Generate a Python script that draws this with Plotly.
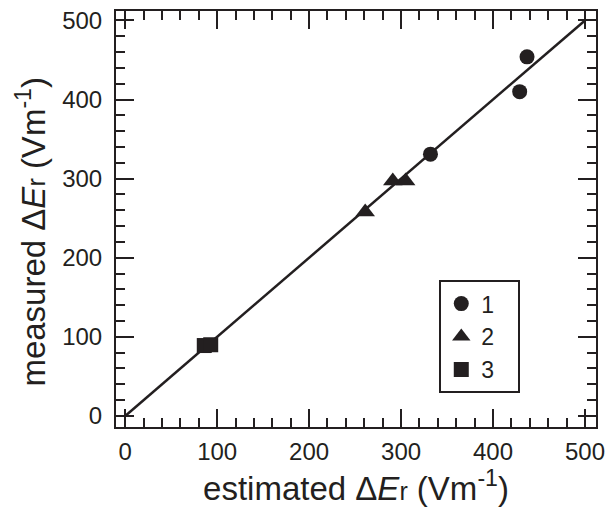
import plotly.graph_objects as go

# data
s1_x = [332, 429, 437]
s1_y = [331, 410, 454]
s2_x = [261, 291, 305]
s2_y = [258, 297, 297]
s3_x = [86, 93]
s3_y = [89, 90]
fit_x = [0, 500]
fit_y = [0, 500]
series_names = ["1", "2", "3"]

ink = "#231f20"
font = "Liberation Sans, Arial, sans-serif"
pad = "\u00a0\u00a0\u00a0"

fig = go.Figure()
fig.add_trace(go.Scatter(x=fit_x, y=fit_y, mode="lines",
                         line=dict(color=ink, width=2.5), showlegend=False))
fig.add_trace(go.Scatter(x=s1_x, y=s1_y, mode="markers", name=series_names[0] + pad,
                         marker=dict(symbol="circle", size=15, color=ink), legendgroup="a"))
fig.add_trace(go.Scatter(x=s2_x, y=s2_y, mode="markers", name=series_names[1] + pad,
                         marker=dict(symbol="triangle-up", size=17, color=ink), legendgroup="b"))
fig.add_trace(go.Scatter(x=s3_x, y=s3_y, mode="markers", name=series_names[2] + pad,
                         marker=dict(symbol="square", size=15, color=ink), legendgroup="c"))

axis_common = dict(
    showgrid=False, zeroline=False, showline=True, linecolor=ink, linewidth=2,
    mirror="allticks", ticks="inside", ticklen=18, tickwidth=2, tickcolor=ink,
    dtick=100, tick0=0,
    minor=dict(ticks="inside", ticklen=9, tickwidth=2, tickcolor=ink, dtick=20),
    tickfont=dict(family=font, size=24, color=ink),
)

fig.update_xaxes(range=[-10, 512], ticklabelstandoff=2, title=dict(
    text="estimated Δ<i>E</i><span style='font-size:25px'>r</span> (Vm<sup>-1</sup>)",
    font=dict(family=font, size=33, color=ink), standoff=2), **axis_common)
fig.update_yaxes(range=[-14, 512], ticklabelstandoff=7, **axis_common)

fig.add_annotation(
    text="measured Δ<i>E</i><span style='font-size:25px'>r</span> (Vm<sup>-1</sup>)",
    xref="paper", yref="paper", x=-0.1777, y=0.469, xanchor="center", yanchor="middle",
    textangle=-90, showarrow=False, font=dict(family=font, size=33, color=ink))

fig.update_layout(
    width=612, height=508,
    margin=dict(l=116, r=12, t=7, b=81),
    plot_bgcolor="white", paper_bgcolor="white",
    legend=dict(x=0.6735, y=0.353, xanchor="left", yanchor="top",
                bordercolor=ink, borderwidth=2, bgcolor="white",
                font=dict(family=font, size=23, color=ink),
                tracegroupgap=0, itemwidth=30),
)

fig.write_html("out.html")
